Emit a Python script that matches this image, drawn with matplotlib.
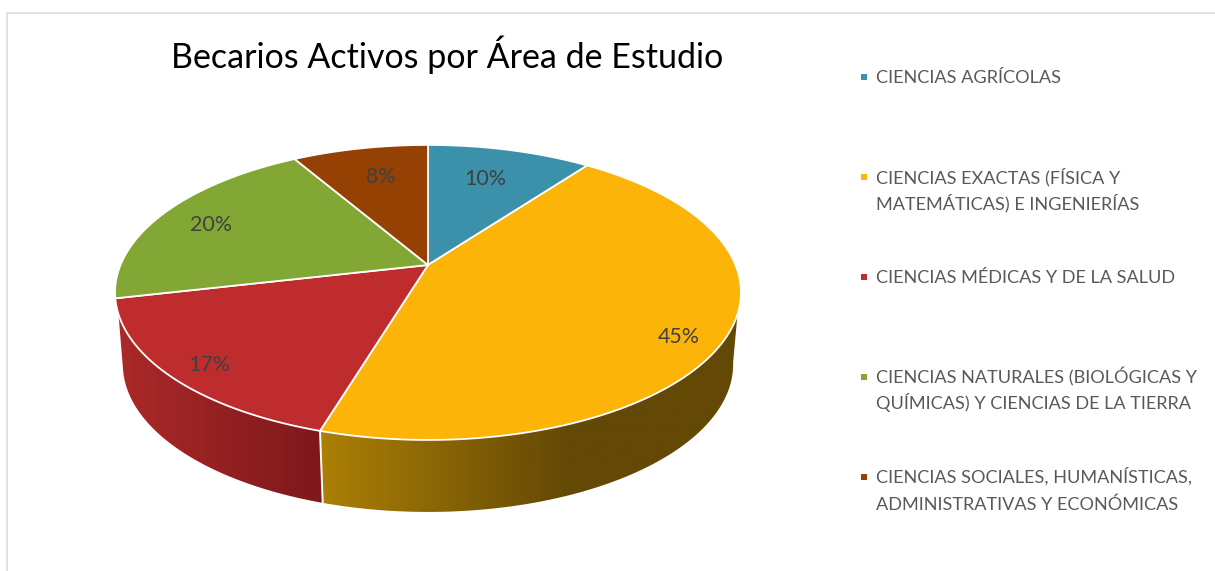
import numpy as np
from matplotlib import pyplot as plt
from matplotlib.colors import LinearSegmentedColormap
from matplotlib.patches import Polygon, Rectangle

plt.rcParams['font.family'] = ['Lato', 'DejaVu Sans']

title = "Becarios Activos por Área de Estudio"
areas = ["CIENCIAS AGRÍCOLAS",
         "CIENCIAS EXACTAS (FÍSICA Y\nMATEMÁTICAS) E INGENIERÍAS",
         "CIENCIAS MÉDICAS Y DE LA SALUD",
         "CIENCIAS NATURALES (BIOLÓGICAS Y\nQUÍMICAS) Y CIENCIAS DE LA TIERRA",
         "CIENCIAS SOCIALES, HUMANÍSTICAS,\nADMINISTRATIVAS Y ECONÓMICAS"]
percent = [10.15, 44.51, 16.74, 20.2, 8.4]
colors = ['#3A91A9', '#FDB409', '#BF2C2D', '#83A734', '#964104']
pct_pos = [(485, 179), (679, 337), (209, 365), (211, 225), (381, 177)]
legend_y = [77, 177, 277, 377, 477]

# pie geometry, in pixels
cx, cy = 428, 265
rx, ry, persp = 307.5, 142.4, 0.186
depth, shrink = 72, 0.975


def top_edge(deg):
    t = np.radians(deg)
    u, v = np.sin(t), np.cos(t)
    return cx + rx * u / (1 + persp * v), cy - ry * v / (1 + persp * v)


def bottom_edge(deg):
    x, y = top_edge(deg)
    return cx + (x - cx) * shrink, y + depth


def wall(start, end, left, right, clip_top=(109, 251), clip_bot=(100, 260)):
    a = np.linspace(max(start, clip_top[0]), min(end, clip_top[1]), 120)
    b = np.linspace(max(start, clip_bot[0]), min(end, clip_bot[1]), 120)
    xt, yt = top_edge(a)
    xb, yb = bottom_edge(b)
    pts = np.r_[np.c_[xt, yt], np.c_[xb, yb][::-1]]
    poly = Polygon(pts, closed=True, fc='none', ec='none')
    ax.add_patch(poly)
    cmap = LinearSegmentedColormap.from_list('w', [left[0], right[0]])
    grad = np.clip((np.linspace(0, 1, 400) - left[1]) / (right[1] - left[1]), 0, 1)
    im = ax.imshow(grad[None, :], extent=(100, 760, 530, 290), cmap=cmap,
                   vmin=0, vmax=1, aspect='auto', zorder=2)
    im.set_clip_path(poly)


fig = plt.figure(figsize=(12.15, 5.71), dpi=100)
ax = fig.add_axes([0, 0, 1, 1])
ax.axis('off')

# chart frame
ax.plot([7, 7, 1215], [571, 12.5, 12.5], color='#D9D9D9', lw=1.1, zorder=1)

edges = np.r_[0, np.cumsum(percent)] * 3.6

# side walls, only the two front slices show
wall(edges[1], edges[2], ('#AB7F05', 0.34), ('#644805', 0.71))
wall(edges[2], edges[3], ('#7F181B', 0.33), ('#AB2929', 0.03))
x0, y0 = top_edge(edges[2])
x1, y1 = bottom_edge(edges[2])
ax.plot([x0, x1], [y0, y1], color='white', lw=1.4, zorder=3)

# top face
for i in range(len(percent)):
    a = np.linspace(edges[i], edges[i + 1], 150)
    x, y = top_edge(a)
    pts = np.r_[[[cx, cy]], np.c_[x, y]]
    ax.add_patch(Polygon(pts, closed=True, fc=colors[i], ec='white', lw=1.3,
                         joinstyle='round', zorder=4))
    ax.text(pct_pos[i][0], pct_pos[i][1], f"{percent[i]:.0f}%", color='#404040',
            fontsize=15.4, ha='center', va='center', zorder=5)

ax.text(447, 68, title, color='black', fontsize=24.5, ha='center', va='baseline')

for i in range(len(areas)):
    ax.add_patch(Rectangle((861, legend_y[i] - 3), 6, 6, fc=colors[i], ec='none'))
    for k, line in enumerate(areas[i].split("\n")):
        ax.text(876, legend_y[i] + 6 + k * 26.5, line, color='#595959',
                fontsize=13.05, ha='left', va='baseline')

ax.set_xlim(0, 1215)
ax.set_ylim(571, 0)
fig.savefig("out.png", dpi=100)
